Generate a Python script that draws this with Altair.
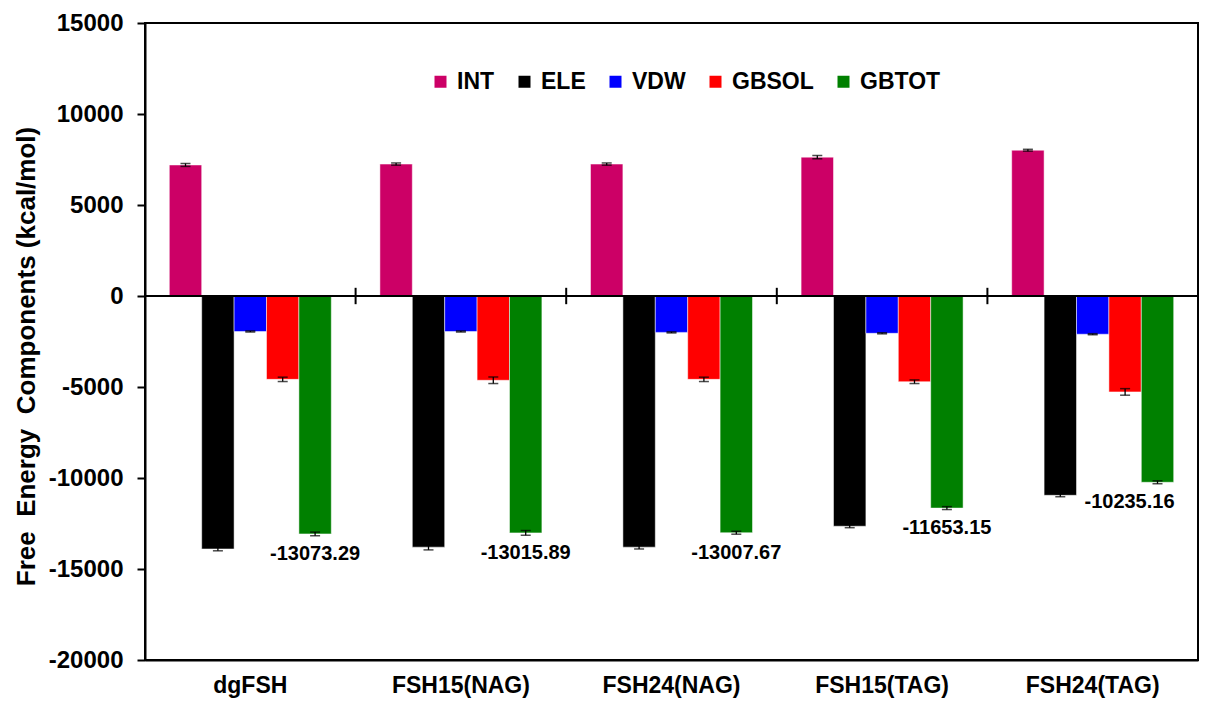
import altair as alt
import pandas as pd

categories = ["dgFSH", "FSH15(NAG)", "FSH24(NAG)", "FSH15(TAG)", "FSH24(TAG)"]
series = ["INT", "ELE", "VDW", "GBSOL", "GBTOT"]
colors = ["#CC0066", "#000000", "#0000FF", "#FF0000", "#008000"]

int_vals = [7200, 7250, 7250, 7630, 8010]
ele_vals = [-13900, -13800, -13800, -12650, -10950]
vdw_vals = [-1950, -1950, -2000, -2050, -2100]
gbsol_vals = [-4580, -4630, -4580, -4710, -5270]
gbtot_vals = [-13073.29, -13015.89, -13007.67, -11653.15, -10235.16]

int_err = [80, 60, 60, 90, 50]
ele_err = [100, 150, 100, 80, 80]
vdw_err = [30, 30, 30, 30, 30]
gbsol_err = [120, 180, 120, 100, 180]
gbtot_err = [100, 130, 80, 80, 80]

y_ticks = [-20000, -15000, -10000, -5000, 0, 5000, 10000, 15000]

vals = {"INT": int_vals, "ELE": ele_vals, "VDW": vdw_vals, "GBSOL": gbsol_vals, "GBTOT": gbtot_vals}
errs = {"INT": int_err, "ELE": ele_err, "VDW": vdw_err, "GBSOL": gbsol_err, "GBTOT": gbtot_err}

rows = []
for s in series:
    for i, c in enumerate(categories):
        v = vals[s][i]
        e = errs[s][i]
        rows.append({"cat": c, "series": s, "value": v, "lo": v - e, "hi": v + e,
                     "label": f"{v:.2f}"})
df = pd.DataFrame(rows)
bounds = pd.DataFrame({"cat": categories[1:]})

FONT = "Liberation Sans"
YTITLE = "Free\u00a0 Energy\u00a0 Components (kcal/mol)"

xscale = alt.Scale(paddingInner=0, paddingOuter=0)
yscale = alt.Scale(domain=[-20000, 15000], nice=False)
yaxis = alt.Axis(values=y_ticks, labelExpr="toString(datum.value)", grid=False,
                 titleY=333)


def X(**kw):
    return alt.X("cat:N", sort=categories, scale=xscale, title=None, **kw)


def XO():
    return alt.XOffset("series:N", sort=series,
                       scale=alt.Scale(paddingInner=0, paddingOuter=0.75))


def Y(field):
    return alt.Y(field, scale=yscale, title=YTITLE, axis=yaxis)


base = alt.Chart(df)

bars = base.mark_bar(stroke="white", strokeWidth=0.5).encode(
    x=X(),
    xOffset=XO(),
    y=Y("value:Q"),
    color=alt.Color("series:N", sort=series,
                    scale=alt.Scale(domain=series, range=colors),
                    legend=alt.Legend(title=None)),
)

err_line = base.mark_rule(color="black", strokeWidth=1.3).encode(
    x=X(), xOffset=XO(), y=Y("lo:Q"), y2="hi:Q"
)
cap_lo = base.mark_tick(color="black", size=10, thickness=1.5).encode(
    x=X(), xOffset=XO(), y=Y("lo:Q")
)
cap_hi = base.mark_tick(color="black", size=10, thickness=1.5).encode(
    x=X(), xOffset=XO(), y=Y("hi:Q")
)

zero = alt.Chart(bounds).mark_rule(color="black", strokeWidth=2).encode(
    y=alt.Y(datum=0, scale=yscale, title=YTITLE, axis=yaxis)
)

sep = alt.Chart(bounds).mark_rule(color="black", strokeWidth=2).encode(
    x=X(bandPosition=0),
    y=alt.Y(datum=-450, scale=yscale, title=YTITLE, axis=yaxis),
    y2=alt.Y2(datum=450),
)

txt_kw = dict(dy=20, fontSize=20, fontWeight="bold", font=FONT, color="black",
              baseline="middle", align="center")
labels_main = base.transform_filter(
    (alt.datum.series == "GBTOT") & (alt.datum.cat != categories[-1])
).mark_text(**txt_kw).encode(
    x=X(), xOffset=XO(), y=Y("value:Q"), text="label:N",
)
labels_last = base.transform_filter(
    (alt.datum.series == "GBTOT") & (alt.datum.cat == categories[-1])
).mark_text(dx=-28, **txt_kw).encode(
    x=X(), xOffset=XO(), y=Y("value:Q"), text="label:N",
)

chart = alt.layer(
    bars, err_line, cap_lo, cap_hi, zero, sep, labels_main, labels_last
).properties(
    width=1053,
    height=637,
    padding={"left": 137, "top": 15, "right": 6, "bottom": 40},
    autosize=alt.AutoSizeParams(type="none"),
).configure_view(
    stroke="black", strokeWidth=2
).configure_axisY(
    grid=False,
    domainColor="black", domainWidth=2,
    tickColor="black", tickWidth=2, tickSize=8,
    labelFont=FONT, labelFontSize=24, labelFontWeight="bold", labelColor="black",
    labelPadding=14,
    titleFont=FONT, titleFontSize=26, titleFontWeight="bold", titleColor="black",
    titlePadding=9,
).configure_axisX(
    grid=False, ticks=False,
    domainColor="black", domainWidth=2,
    labelAngle=0,
    labelFont=FONT, labelFontSize=23, labelFontWeight="bold", labelColor="black",
    labelPadding=14,
).configure_legend(
    orient="none", legendX=284, legendY=47,
    direction="horizontal",
    symbolType="square", symbolSize=144, symbolStrokeWidth=0,
    labelFont=FONT, labelFontSize=23, labelFontWeight="bold", labelColor="black",
    labelOffset=5, columnPadding=18,
)

chart.save("out.html", embed_options={"renderer": "svg", "actions": False})
